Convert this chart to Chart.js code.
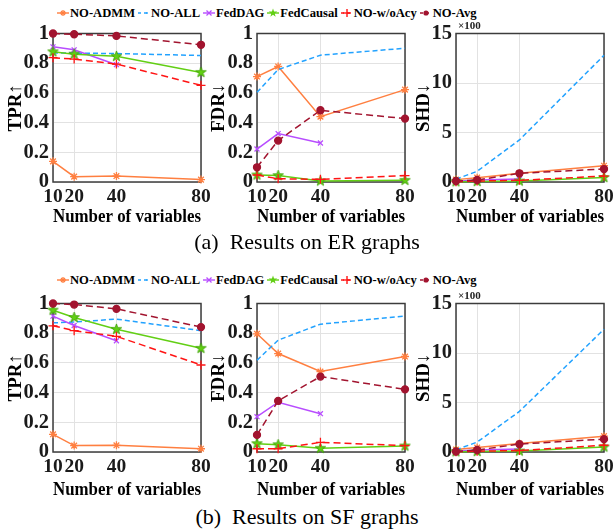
<!DOCTYPE html>
<html>
<head>
<meta charset="utf-8">
<script src="https://cdn.jsdelivr.net/npm/chart.js@4.4.0/dist/chart.umd.min.js"></script>
<style>
  body { margin: 0; background: #fff; }
  #wrap { position: relative; width: 614px; height: 531px; overflow: hidden; font-family: "Liberation Serif", "Times New Roman", serif; }
  canvas { position: absolute; }
  .legend { position: absolute; left: 57px; height: 16px; display: flex; align-items: center; font-weight: bold; font-size: 12.6px; white-space: nowrap; color: #000; }
  .legend .item { display: inline-flex; align-items: center; margin-right: 3px; }
  .legend svg { margin-right: 1px; }
  .caption { position: absolute; left: 0; width: 614px; text-align: center; font-size: 22px; line-height: 26px; color: #000; }
  .mult { position: absolute; font-size: 11px; font-weight: bold; color: #222; }
</style>
</head>
<body>
<div id="wrap">
  <div class="legend" id="leg1" style="top:5px"></div>
  <canvas id="erTpr" width="214" height="210" style="left:0px;top:20px"></canvas>
  <canvas id="erFdr" width="214" height="210" style="left:203px;top:20px"></canvas>
  <canvas id="erShd" width="206" height="210" style="left:408px;top:20px"></canvas>
  <div class="mult" style="left:458px;top:19px">×100</div>
  <div class="caption" style="top:229px">(a)&nbsp; Results on ER graphs</div>

  <div class="legend" id="leg2" style="top:272px"></div>
  <canvas id="sfTpr" width="214" height="213" style="left:0px;top:290px"></canvas>
  <canvas id="sfFdr" width="214" height="213" style="left:203px;top:290px"></canvas>
  <canvas id="sfShd" width="206" height="213" style="left:408px;top:290px"></canvas>
  <div class="mult" style="left:458px;top:289px">×100</div>
  <div class="caption" style="top:504px">(b)&nbsp; Results on SF graphs</div>
</div>
<script>
const xVals = [10, 20, 40, 80];
const seriesNames = ['NO-ADMM', 'NO-ALL', 'FedDAG', 'FedCausal', 'NO-w/oAcy', 'NO-Avg'];
const probTicks = [0, 0.2, 0.4, 0.6, 0.8, 1];
const probTickLabels = ['0', '0.2', '0.4', '0.6', '0.8', '1'];
const shdTicks = [0, 5, 10, 15];
const shdTickLabels = ['0', '5', '10', '15'];

// rows follow seriesNames; FedDAG has no run at 80 variables
const erTPR = [
  [0.139, 0.036, 0.040, 0.016],
  [0.870, 0.868, 0.865, 0.852],
  [0.910, 0.890, 0.790, null],
  [0.877, 0.861, 0.846, 0.738],
  [0.837, 0.828, 0.794, 0.651],
  [1.000, 0.995, 0.984, 0.924]
];
const erFDR = [
  [0.710, 0.778, 0.440, 0.622],
  [0.604, 0.757, 0.854, 0.901],
  [0.222, 0.326, 0.263, null],
  [0.047, 0.043, 0.007, 0.011],
  [0.047, 0.022, 0.018, 0.043],
  [0.099, 0.279, 0.483, 0.427]
];
// SHD in hundreds
const erSHD = [
  [0.24, 0.44, 0.88, 1.65],
  [0.28, 1.08, 4.25, 12.8],
  [0.08, 0.20, 0.30, null],
  [0.02, 0.05, 0.10, 0.45],
  [0.03, 0.10, 0.17, 0.60],
  [0.10, 0.20, 0.88, 1.31]
];
const sfTPR = [
  [0.119, 0.043, 0.045, 0.022],
  [0.870, 0.875, 0.895, 0.817],
  [0.915, 0.852, 0.749, null],
  [0.955, 0.906, 0.826, 0.698],
  [0.850, 0.817, 0.779, 0.586],
  [1.000, 0.993, 0.964, 0.841]
];
const sfFDR = [
  [0.796, 0.663, 0.542, 0.643],
  [0.618, 0.753, 0.861, 0.915],
  [0.238, 0.335, 0.258, null],
  [0.056, 0.049, 0.025, 0.040],
  [0.022, 0.022, 0.065, 0.043],
  [0.115, 0.344, 0.508, 0.422]
];
const sfSHD = [
  [0.25, 0.45, 0.85, 1.60],
  [0.22, 1.00, 4.10, 12.4],
  [0.10, 0.20, 0.30, null],
  [0.02, 0.05, 0.10, 0.50],
  [0.02, 0.08, 0.15, 0.68],
  [0.05, 0.20, 0.80, 1.30]
];

const seriesColors = ['#ff7f40', '#22a2ff', '#b84dff', '#62cf14', '#ff1414', '#a2142f'];
const seriesDash = [[], [5, 3], [], [], [7, 4], [7, 4]];
const seriesRadius = [4, 0, 3.5, 5, 4.5, 3.5];

// filled five-point star used for FedCausal
function pentagram(r, color) {
  const c = document.createElement('canvas');
  c.width = c.height = Math.ceil(r * 2 + 2);
  const g = c.getContext('2d');
  g.beginPath();
  for (let k = 0; k < 10; k++) {
    const a = -Math.PI / 2 + k * Math.PI / 5;
    const rr = k % 2 ? r * 0.4 : r;
    g.lineTo(c.width / 2 + rr * Math.cos(a), c.height / 2 + rr * Math.sin(a));
  }
  g.closePath();
  g.fillStyle = color;
  g.fill();
  g.strokeStyle = '#3aa000';
  g.lineWidth = 0.8;
  g.stroke();
  return c;
}
const seriesMarkers = ['star', 'circle', 'crossRot', pentagram(5.5, '#62cf14'), 'cross', 'circle'];

const serif = "'Liberation Serif', 'Times New Roman', serif";

const boxPlugin = {
  id: 'axesBox',
  beforeDatasetsDraw(chart) {
    const { ctx, chartArea: a } = chart;
    ctx.save();
    ctx.strokeStyle = '#3c3c3c';
    ctx.lineWidth = 1.5;
    ctx.strokeRect(a.left, a.top, a.right - a.left, a.bottom - a.top);
    ctx.restore();
  }
};

function makeChart(id, data, yTitle, yTicks, yLabels, axisW, padRight, xAxisH) {
  const datasets = seriesNames.map((name, i) => ({
    label: name,
    data: data[i].map((v, k) => ({ x: xVals[k], y: v })).filter(p => p.y !== null),
    borderColor: seriesColors[i],
    backgroundColor: seriesColors[i],
    borderWidth: 1.5,
    borderDash: seriesDash[i],
    pointStyle: seriesMarkers[i],
    pointRadius: seriesRadius[i],
    pointBorderWidth: 1.3,
    clip: false,
    order: seriesNames.length - i
  }));
  return new Chart(document.getElementById(id), {
    type: 'line',
    data: { datasets },
    options: {
      responsive: false,
      animation: false,
      layout: { padding: { left: 0, top: 13.5, right: padRight, bottom: 0 } },
      plugins: { legend: { display: false }, tooltip: { enabled: false } },
      scales: {
        x: {
          type: 'linear', min: 10, max: 80,
          afterBuildTicks: a => { a.ticks = xVals.map(v => ({ value: v })); },
          afterFit: a => { a.height = xAxisH; a.paddingLeft = 0; a.paddingRight = 0; },
          grid: { color: '#e2e2e2', drawTicks: false },
          border: { display: false },
          ticks: { padding: 3, maxRotation: 0, autoSkip: false, color: '#1a1a1a', font: { family: serif, size: 19.5, weight: 'bold' } },
          title: { display: true, text: 'Number of variables', color: '#000', padding: { top: 0, bottom: 2 }, font: { family: serif, size: 18, weight: 'bold' } }
        },
        y: {
          type: 'linear',
          min: yTicks[0], max: yTicks[yTicks.length - 1],
          afterBuildTicks: a => { a.ticks = yTicks.map(v => ({ value: v })); },
          afterTickToLabelConversion: a => { a.ticks.forEach((t, k) => { t.label = yLabels[k]; }); },
          afterFit: a => { a.width = axisW; a.paddingTop = 0; a.paddingBottom = 0; },
          grid: { color: '#e2e2e2', drawTicks: false },
          border: { display: false },
          ticks: { padding: 4, color: '#1a1a1a', font: { family: serif, size: 20.5, weight: 'bold' } },
          title: { display: true, text: yTitle, color: '#000', padding: { top: 5, bottom: 0 }, font: { family: serif, size: 19, weight: 'bold' } }
        }
      }
    },
    plugins: [boxPlugin]
  });
}

makeChart('erTpr', erTPR, 'TPR↑', probTicks, probTickLabels, 53, 13, 48);
makeChart('erFdr', erFDR, 'FDR↓', probTicks, probTickLabels, 54, 12, 48);
makeChart('erShd', erSHD, 'SHD↓', shdTicks, shdTickLabels, 48, 10, 48);
makeChart('sfTpr', sfTPR, 'TPR↑', probTicks, probTickLabels, 53, 13, 51);
makeChart('sfFdr', sfFDR, 'FDR↓', probTicks, probTickLabels, 54, 12, 51);
makeChart('sfShd', sfSHD, 'SHD↓', shdTicks, shdTickLabels, 48, 10, 51);

// legend icons: short line segment with the series marker
function legendIcon(i) {
  const c = seriesColors[i];
  const dash = seriesDash[i].length ? ` stroke-dasharray="3,3"` : '';
  let s = `<svg width="12" height="12" viewBox="0 0 12 12"><line x1="0" y1="6" x2="12" y2="6" stroke="${c}" stroke-width="1.4"${dash}/>`;
  if (i === 0) s += `<g stroke="${c}" stroke-width="1.3"><line x1="3" y1="6" x2="9" y2="6"/><line x1="6" y1="3" x2="6" y2="9"/><line x1="4" y1="4" x2="8" y2="8"/><line x1="8" y1="4" x2="4" y2="8"/></g>`;
  if (i === 1) s += `<circle cx="9" cy="6" r="0.9" fill="${c}"/>`;
  if (i === 2) s += `<g stroke="${c}" stroke-width="1.3"><line x1="3.5" y1="3.5" x2="8.5" y2="8.5"/><line x1="8.5" y1="3.5" x2="3.5" y2="8.5"/></g>`;
  if (i === 3) {
    let pts = [];
    for (let k = 0; k < 10; k++) {
      const a = -Math.PI / 2 + k * Math.PI / 5;
      const rr = k % 2 ? 1.8 : 4.5;
      pts.push((6 + rr * Math.cos(a)).toFixed(2) + ',' + (6 + rr * Math.sin(a)).toFixed(2));
    }
    s += `<polygon points="${pts.join(' ')}" fill="${c}"/>`;
  }
  if (i === 4) s += `<g stroke="${c}" stroke-width="1.4"><line x1="2" y1="6" x2="10" y2="6"/><line x1="6" y1="2" x2="6" y2="10"/></g>`;
  if (i === 5) s += `<circle cx="6" cy="6" r="2.6" fill="${c}"/>`;
  return s + '</svg>';
}
['leg1', 'leg2'].forEach(id => {
  document.getElementById(id).innerHTML = seriesNames
    .map((n, i) => `<span class="item">${legendIcon(i)}${n}</span>`).join('');
});
</script>
</body>
</html>
